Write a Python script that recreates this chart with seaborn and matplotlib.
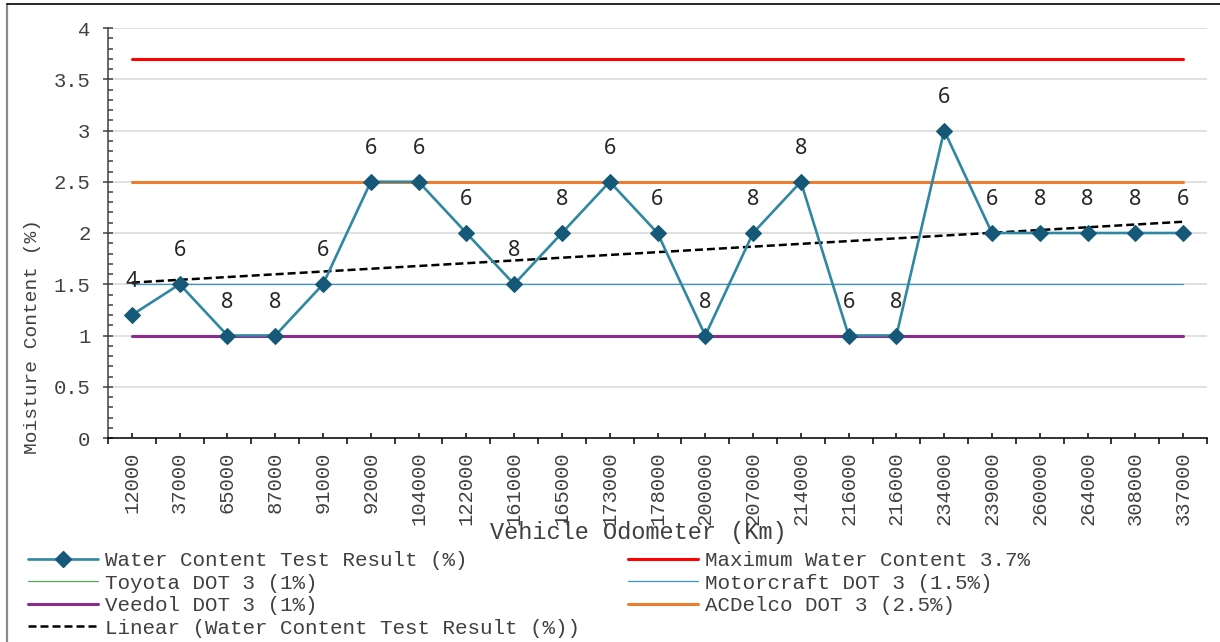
import numpy as np
import matplotlib
matplotlib.use("Agg")
import matplotlib.pyplot as plt
from matplotlib.lines import Line2D
from matplotlib.ticker import MultipleLocator, FixedLocator
import seaborn as sns
import pandas as pd

# Brake fluid moisture survey
odometer = ["12000", "37000", "65000", "87000", "91000", "92000", "104000",
            "122000", "161000", "165000", "173000", "178000", "200000",
            "207000", "214000", "216000", "216000", "234000", "239000",
            "260000", "264000", "308000", "337000"]
moisture = [1.2, 1.5, 1.0, 1.0, 1.5, 2.5, 2.5, 2.0, 1.5, 2.0, 2.5, 2.0,
            1.0, 2.0, 2.5, 1.0, 1.0, 3.0, 2.0, 2.0, 2.0, 2.0, 2.0]
point_labels = ["4", "6", "8", "8", "6", "6", "6", "6", "8", "8", "6", "6",
                "8", "8", "8", "6", "8", "6", "6", "8", "8", "8", "6"]

max_water = 3.7
toyota = 1.0
motorcraft = 1.5
veedol = 1.0
acdelco = 2.5

sns.set_style("white")
plt.rcParams["font.family"] = ["Liberation Mono", "DejaVu Sans Mono"]

fig = plt.figure(figsize=(12.2, 6.42), dpi=100)
ax = fig.add_axes([108 / 1220, 1 - 438 / 642, 1099 / 1220, 410 / 642])

pos = np.arange(len(odometer))
df = pd.DataFrame({"pos": pos, "moisture": moisture})

# Reference limits
ref_specs = [
    ("Maximum Water Content 3.7%", max_water, "#FF0000", 2.2),
    ("Toyota DOT 3 (1%)", toyota, "#5DA55D", 0.9),
    ("Motorcraft DOT 3 (1.5%)", motorcraft, "#3A96C8", 0.9),
    ("Veedol DOT 3 (1%)", veedol, "#8E2A8E", 2.2),
    ("ACDelco DOT 3 (2.5%)", acdelco, "#ED7D31", 2.2),
]
ref_handles = {}
for name, val, col, lw in ref_specs:
    sns.lineplot(x=pos, y=np.full(len(pos), val), ax=ax, color=col, lw=lw,
                 zorder=2, legend=False)
    ref_handles[name] = Line2D([], [], color=col, lw=lw)

# Linear trend of the test results
slope, intercept = np.polyfit(pos, moisture, 1)
trend = intercept + slope * pos
sns.lineplot(x=pos, y=trend, ax=ax, color="black", lw=1.8, zorder=3,
             legend=False)
ax.lines[-1].set_dashes((3.2, 1.6))
trend_handle = Line2D([], [], color="black", lw=1.8, dashes=(3.2, 1.6))

# Test results
sns.lineplot(data=df, x="pos", y="moisture", ax=ax, color="#2F87A1", lw=1.9,
             marker="D", markersize=8, markerfacecolor="#155877",
             markeredgecolor="#155877", zorder=4, legend=False)
main_handle = Line2D([], [], color="#2F87A1", lw=1.9, marker="D",
                     markersize=8, markerfacecolor="#155877",
                     markeredgecolor="#155877")

for x, y, t in zip(pos, moisture, point_labels):
    ax.annotate(t, (x, y), xytext=(0, 24), textcoords="offset points",
                ha="center", va="center", fontsize=15.5, color="#262626",
                family=["Noto Sans", "DejaVu Sans"], zorder=5)

# Axes, ticks, grid
ax.set_xlim(-0.5, len(pos) - 0.5)
ax.set_ylim(0, 4)
ax.yaxis.set_major_locator(MultipleLocator(0.5))
ax.yaxis.set_minor_locator(MultipleLocator(0.1))
ax.set_yticks(np.arange(0, 4.01, 0.5))
ax.set_yticklabels(["0", "0.5", "1", "1.5", "2", "2.5", "3", "3.5", "4"])
ax.xaxis.set_major_locator(FixedLocator(pos))
ax.xaxis.set_minor_locator(FixedLocator(np.arange(-0.5, len(pos), 1.0)))
ax.set_xticklabels(odometer, rotation=90)

ax.tick_params(axis="y", which="major", direction="inout", length=7.5,
               width=1.1, color="#404040", labelsize=14.8,
               labelcolor="#404040", pad=9, left=True)
ax.tick_params(axis="y", which="minor", direction="in", length=3.6,
               width=1.1, color="#404040", left=True)
ax.tick_params(axis="x", which="major", direction="in", length=3.6,
               width=1.1, color="black", labelsize=14.8,
               labelcolor="#404040", pad=10, bottom=True)
ax.tick_params(axis="x", which="minor", direction="out", length=4.5,
               width=1.1, color="black", bottom=True)

ax.grid(axis="y", which="major", color="#D9D9D9", lw=1.1, zorder=0)
ax.set_axisbelow(True)
for s in ("top", "right"):
    ax.spines[s].set_visible(False)
ax.spines["left"].set_color("#404040")
ax.spines["bottom"].set_color("black")
ax.spines["left"].set_linewidth(1.1)
ax.spines["bottom"].set_linewidth(1.1)

ax.set_xlabel("Vehicle Odometer (Km)", fontsize=17, color="#404040",
              va="center")
ax.xaxis.set_label_coords((638 - 108) / 1099, (438 - 533) / 410)
ax.set_ylabel("Moisture Content (%)", fontsize=14, color="#404040",
              va="center")
ax.yaxis.set_label_coords((33 - 108) / 1099, (438 - 337) / 410)

# Legend below the plot
handles = [main_handle, ref_handles["Toyota DOT 3 (1%)"],
           ref_handles["Veedol DOT 3 (1%)"], trend_handle,
           ref_handles["Maximum Water Content 3.7%"],
           ref_handles["Motorcraft DOT 3 (1.5%)"],
           ref_handles["ACDelco DOT 3 (2.5%)"]]
labels = ["Water Content Test Result (%)", "Toyota DOT 3 (1%)",
          "Veedol DOT 3 (1%)", "Linear (Water Content Test Result (%))",
          "Maximum Water Content 3.7%", "Motorcraft DOT 3 (1.5%)",
          "ACDelco DOT 3 (2.5%)"]
leg = fig.legend(handles, labels, ncol=2, loc="upper left",
                 bbox_to_anchor=(28 / 1220, 1 - 551 / 642), frameon=False,
                 fontsize=15, handlelength=3.35, handletextpad=0.35,
                 labelspacing=0.17, columnspacing=2.3, borderpad=0,
                 borderaxespad=0)
for t in leg.get_texts():
    t.set_color("#404040")

# Outer chart border
fig.add_artist(Line2D([6.5 / 1220, 6.5 / 1220], [0, 1 - 4 / 642],
                      transform=fig.transFigure, color="#8C8C8C", lw=1.6))
fig.add_artist(Line2D([6.5 / 1220, 1], [1 - 4 / 642, 1 - 4 / 642],
                      transform=fig.transFigure, color="black", lw=1.2))

fig.savefig("out.png", dpi=100)
